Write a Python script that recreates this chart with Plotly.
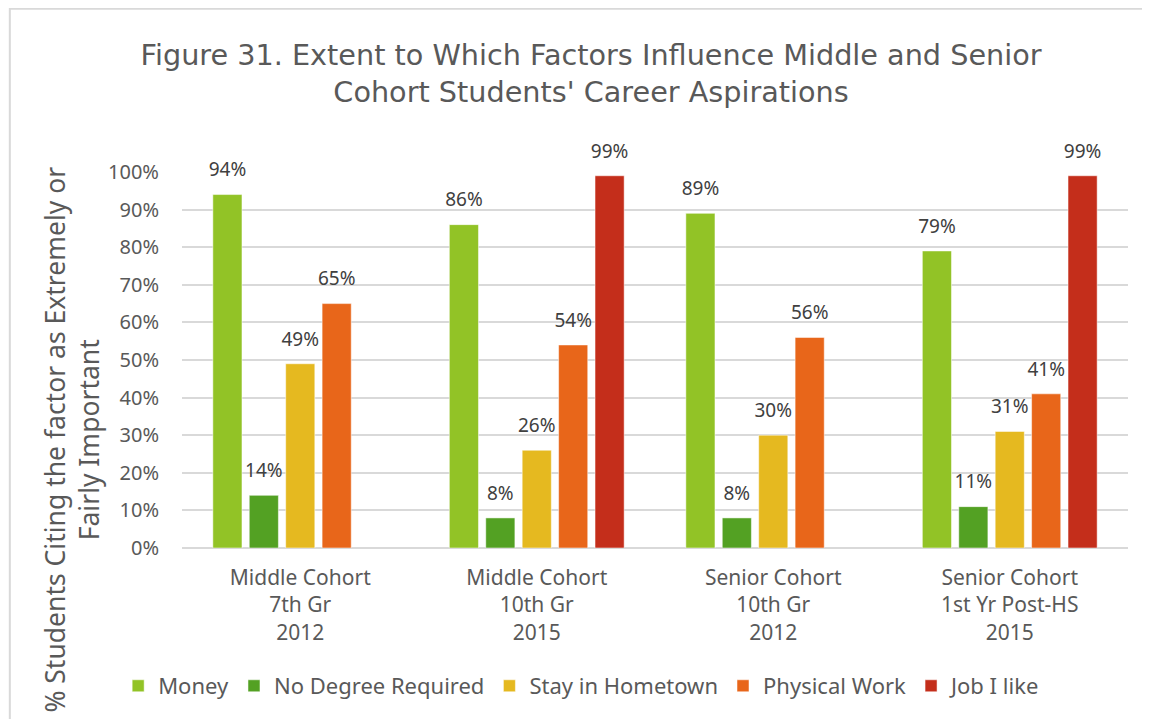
import plotly.graph_objects as go

groups = [
    "Middle Cohort<br>7th Gr<br>2012",
    "Middle Cohort<br>10th Gr<br>2015",
    "Senior Cohort<br>10th Gr<br>2012",
    "Senior Cohort<br>1st Yr Post-HS<br>2015",
]
factors = ["Money", "No Degree Required", "Stay in Hometown", "Physical Work", "Job I like"]
money = [94, 86, 89, 79]
no_degree = [14, 8, 8, 11]
hometown = [49, 26, 30, 31]
physical = [65, 54, 56, 41]
job_like = [None, 99, None, 99]
colors = ["#92C326", "#53A123", "#E5B920", "#E8661A", "#C42E1B"]

series = [money, no_degree, hometown, physical, job_like]

fig = go.Figure()
for name, vals, col in zip(factors, series, colors):
    fig.add_trace(go.Bar(
        x=groups, y=vals, name=name,
        marker=dict(color=col, line=dict(color="rgba(255,255,255,0.5)", width=1)),
    ))

# value labels: invisible markers grouped like the bars so the text sits a bit higher
for name, vals in zip(factors, series):
    fig.add_trace(go.Scatter(
        x=groups, y=vals, mode="markers+text", showlegend=False, hoverinfo="skip",
        marker=dict(size=20, color="rgba(0,0,0,0)"),
        text=[f"{v}%" if v is not None else "" for v in vals],
        textposition="top center",
        textfont=dict(size=19, color="#404040", family="Noto Sans"),
        cliponaxis=False,
    ))

fig.update_layout(
    width=1150, height=719,
    paper_bgcolor="white", plot_bgcolor="white",
    margin=dict(l=174, r=30, t=164, b=179),
    barmode="group", bargap=0.23, bargroupgap=0.2,
    scattermode="group", scattergap=0.23,
    font=dict(family="Noto Sans", color="#595959", size=20),
    title=dict(
        text="Figure 31. Extent to Which Factors Influence Middle and Senior<br>Cohort Students' Career Aspirations",
        x=0.507, xanchor="center", y=0.921, yanchor="middle",
        font=dict(family="DejaVu Sans", size=28.7, color="#595959"),
    ),
    legend=dict(
        orientation="h", x=0.423, xanchor="center", y=-0.367, yanchor="middle",
        font=dict(family="Noto Sans", size=22, color="#595959"),
        traceorder="normal",
    ),
    showlegend=True,
)
fig.update_xaxes(showline=False, ticks="", tickfont=dict(size=21, color="#595959"),
                 automargin=False, ticklabelstandoff=15)
fig.update_yaxes(
    range=[0, 100], dtick=10, ticksuffix="%", automargin=False,
    showgrid=True, gridcolor="#D9D9D9", gridwidth=2,
    zeroline=True, zerolinecolor="#D9D9D9", zerolinewidth=2,
    tickfont=dict(size=20, color="#595959"), ticklabelstandoff=22,
)
fig.add_annotation(
    text="% Students Citing the factor as Extremely or<br>Fairly Important",
    xref="paper", yref="paper", x=-0.116, y=0.289, textangle=-90,
    xanchor="center", yanchor="middle",
    showarrow=False, font=dict(size=26.5, color="#595959"),
)
fig.add_shape(type="rect", xref="paper", yref="paper",
              x0=-0.182, x1=1.2, y0=-0.7, y1=1.434,
              line=dict(color="#D9D9D9", width=2), layer="below")

fig.write_html("out.html")
